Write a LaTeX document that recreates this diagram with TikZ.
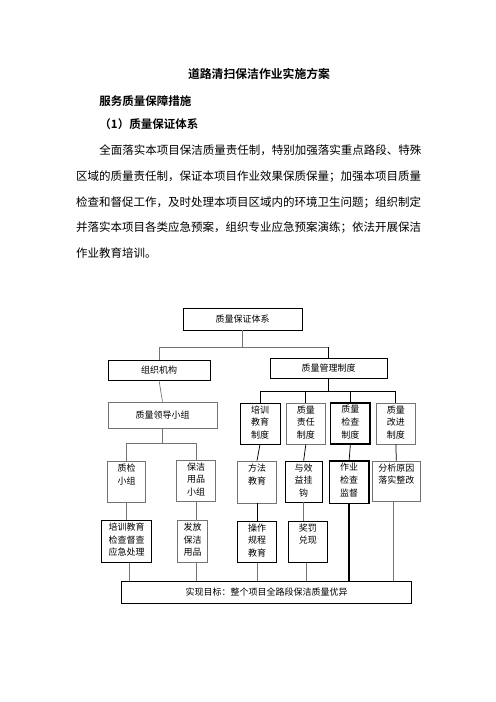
\documentclass[tikz,border=0pt]{standalone}
\usepackage{fontspec}
\setmainfont{Noto Sans CJK SC}[BoldFont={Noto Sans CJK SC Bold}]
\newcommand{\chartfont}{\fontsize{10.8}{15.2}\selectfont}
\newcommand{\bodyfont}{\fontsize{13.8}{16}\selectfont}
\tikzset{
  bx/.style={draw=black, line width=0.9pt, inner sep=0pt, rectangle, font=\chartfont},
  bxg/.style={draw=black!55, line width=0.8pt},
  bxk/.style={line width=1.7pt},
  lbl/.style={inner sep=0pt, align=center, font=\chartfont},
  gl/.style={draw=black!55, line width=0.8pt},
  kl/.style={draw=black, line width=0.9pt},
  tl/.style={draw=black, line width=1.7pt},
  bodytxt/.style={inner sep=0pt, anchor=west, font=\bodyfont},
}
% centred text box: [style]{name}{x1}{y1}{x2}{y2}{text}
\newcommand{\mkboxc}[7][]{%
  \node[bx,#1,minimum width={(#5-#3)*1.2pt},minimum height={(#6-#4)*1.2pt}]
    (#2) at ({(#3+#5)/2},{(#4+#6)/2}) {#7};}
% top-aligned text box
\newcommand{\mkboxt}[7][]{%
  \node[bx,#1,minimum width={(#5-#3)*1.2pt},minimum height={(#6-#4)*1.2pt}]
    (#2) at ({(#3+#5)/2},{(#4+#6)/2}) {};
  \node[lbl,anchor=north] (#2-t) at ([yshift=-3.5pt]#2.north) {#7};}
\begin{document}
\begin{tikzpicture}[x=1.2pt,y=-1.2pt]
\useasboundingbox (0,0) rectangle (496,702);
% ---- text ----
\node[inner sep=0pt,font=\fontsize{14.2}{16}\selectfont\bfseries] (title) at (259,74) {道路清扫保洁作业实施方案};
\node[bodytxt,font=\bodyfont\bfseries] (h1) at (99.3,100.7) {服务质量保障措施};
\node[bodytxt,font=\bodyfont\bfseries] (h2) at (99.3,124.3) {（1）质量保证体系};
\node[bodytxt] (p1) at (99.3,150) {全面落实本项目保洁质量责任制，特别加强落实重点路段、特殊};
\node[bodytxt] (p2) at (76,176.5) {区域的质量责任制，保证本项目作业效果保质保量；加强本项目质量};
\node[bodytxt] (p3) at (76,202.3) {检查和督促工作，及时处理本项目区域内的环境卫生问题；组织制定};
\node[bodytxt] (p4) at (76,228) {并落实本项目各类应急预案，组织专业应急预案演练；依法开展保洁};
\node[bodytxt] (p5) at (76,253.3) {作业教育培训。};
% ---- boxes ----
\mkboxc{A}{183}{308}{302}{330}{质量保证体系}
\mkboxc{B}{108}{360}{210}{380}{组织机构}
\mkboxc{C}{270}{358}{387}{378}{质量管理制度}
\mkboxc[bxg]{D}{108}{402}{217}{428}{质量领导小组}
\mkboxt{E1}{240}{403}{280}{444}{培训\\教育\\制度}
\mkboxt[bxg]{E2}{286.7}{403}{325}{444}{质量\\责任\\制度}
\mkboxt[bxk]{E3}{330.7}{403}{370}{444}{质量\\检查\\制度}
\mkboxt[bxg]{E4}{376.7}{403}{415}{444}{质量\\改进\\制度}
\mkboxt[bxg]{F1}{107.3}{461}{145.7}{502.7}{质检\\小组}
\mkboxt[bxg]{F2}{176.7}{460}{215.7}{501}{保洁\\用品\\小组}
\mkboxt[bxg]{G1}{237.3}{461}{276.7}{503}{方法\\教育}
\mkboxt{G2}{285}{461}{322.3}{502}{与效\\益挂\\钩}
\mkboxt[bxk]{G3}{329.3}{461}{369}{503.3}{作业\\检查\\监督}
\mkboxt[bxg]{G4}{372.7}{461}{420}{501.7}{分析原因\\落实整改}
\mkboxt{H1}{101.7}{520}{151.7}{562.7}{培训教育\\检查督查\\应急处理}
\mkboxt[bxg]{H2}{177.7}{520}{207.3}{562.7}{发放\\保洁\\用品}
\mkboxt{H3}{237.3}{521}{276.7}{562.7}{操作\\规程\\教育}
\mkboxt{H4}{288.3}{521}{327.3}{562.7}{奖罚\\兑现}
\mkboxc{I}{121.7}{581}{411.7}{603.3}{实现目标：整个项目全路段保洁质量优异}
% ---- junctions ----
\path (A.south) ++(0,17) coordinate (jA);
\path (C.south) ++(0,13) coordinate (jC);
\path (D.south) ++(0,14.5) coordinate (jD);
\coordinate (jAC) at (C.north |- jA);
% ---- connectors ----
\draw[gl] (A.south) -- (jA);
\draw[gl] (jA) -| (B.north);
\draw[gl] (jA) -- (jAC);
\draw[kl] (jAC) -- (C.north);
\draw[gl] (B.south) -- (D.north);
\draw[gl] (D.south) -- (jD);
\draw[gl] (jD) -| (F1.north);
\draw[gl] (jD) -| (F2.north);
\draw[kl] (C.south) -- (jC);
\draw[kl] (jC) -| (E1.north);
\draw[kl] (jC) -| (E2.north);
\draw[kl] (jC) -| (E3.north);
\draw[kl] (jC) -| (E4.north);
\draw[kl] (E1.south) -- (G1.north);
\draw[kl] (E2.south) -- (G2.north);
\draw[kl] (E3.south) -- (G3.north);
\draw[kl] (E4.south) -- (G4.north);
\draw[gl] (F1.south) -- (H1.north -| F1.south);
\draw[gl] (F2.south) -- (H2.north -| F2.south);
\draw[kl] (G1.south) -- (H3.north -| G1.south);
\draw[gl] (G2.south) -- (H4.north -| G2.south);
\draw[gl] ([xshift=3pt]H1.south) -- ([xshift=3pt]H1.south |- I.north);
\draw[gl] (H2.south -| F2.south) -- (I.north -| F2.south);
\draw[gl] (H3.south) -- (H3.south |- I.north);
\draw[gl] ([xshift=-2pt]H4.south) -- ([xshift=-2pt]H4.south |- I.north);
\draw[tl] (G3.south) -- (G3.south |- I.north);
\draw[gl] ([xshift=-4pt]G4.south) -- ([xshift=-4pt]G4.south |- I.north);
\end{tikzpicture}
\end{document}
